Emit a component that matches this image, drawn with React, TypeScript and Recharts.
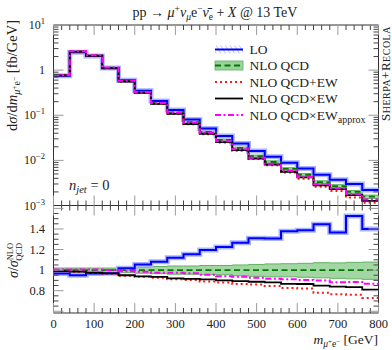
import React from 'react'
import { ComposedChart, Line, Area, XAxis, YAxis, ReferenceArea } from 'recharts'

const BIN_EDGES = [0, 40, 80, 120, 160, 200, 240, 280, 320, 360, 400, 440, 480, 520, 560, 600, 640, 680, 720, 760, 800]

// upper panel: dsigma/dm [fb/GeV], one value per 40 GeV bin
const LO = [0.75, 2.48, 2.06, 1.11, 0.6, 0.35, 0.206, 0.13, 0.081, 0.051, 0.0347, 0.0238, 0.0162, 0.012, 0.00885, 0.0066, 0.0048, 0.0037, 0.003, 0.0022]
const NLO_QCD = [0.775, 2.61, 2.13, 1.14, 0.59, 0.332, 0.191, 0.116, 0.07, 0.0427, 0.0283, 0.0188, 0.0124, 0.0092, 0.0065, 0.0048, 0.0033, 0.0027, 0.002, 0.00157]
const NLO_QCD_DOWN = [0.76, 2.56, 2.09, 1.12, 0.575, 0.322, 0.184, 0.111, 0.067, 0.0408, 0.027, 0.0178, 0.0117, 0.0087, 0.0061, 0.0045, 0.00307, 0.0025, 0.00184, 0.00143]
const NLO_QCD_UP = [0.79, 2.66, 2.17, 1.16, 0.605, 0.342, 0.198, 0.121, 0.073, 0.0446, 0.0296, 0.0197, 0.0131, 0.0098, 0.0069, 0.0051, 0.00353, 0.0029, 0.00215, 0.0017]
const NLO_PLUS_EW = [0.767, 2.57, 2.08, 1.1, 0.558, 0.31, 0.177, 0.106, 0.063, 0.038, 0.0249, 0.0163, 0.0107, 0.0078, 0.0054, 0.0039, 0.0026, 0.0021, 0.0015, 0.00115]
const NLO_TIMES_EW = [0.767, 2.57, 2.08, 1.1, 0.56, 0.312, 0.179, 0.107, 0.064, 0.0389, 0.0255, 0.0168, 0.011, 0.0081, 0.0056, 0.0042, 0.0028, 0.0023, 0.0017, 0.00127]
const NLO_TIMES_EW_APPROX = [0.775, 2.62, 2.14, 1.14, 0.584, 0.327, 0.186, 0.113, 0.068, 0.0408, 0.0266, 0.0176, 0.0115, 0.0084, 0.0059, 0.0043, 0.003, 0.0024, 0.0018, 0.00136]

// lower panel: ratios to NLO QCD
const R_LO = [0.968, 0.95, 0.968, 0.97, 1.017, 1.055, 1.08, 1.12, 1.153, 1.195, 1.225, 1.267, 1.31, 1.306, 1.377, 1.387, 1.446, 1.365, 1.527, 1.4]
const R_NLO = [1, 1, 1, 1, 1, 1, 1, 1, 1, 1, 1, 1, 1, 1, 1, 1, 1, 1, 1, 1]
const R_BAND_DOWN = [0.98, 0.98, 0.98, 0.98, 0.975, 0.97, 0.965, 0.96, 0.96, 0.955, 0.955, 0.945, 0.94, 0.935, 0.935, 0.93, 0.925, 0.92, 0.915, 0.91]
const R_BAND_UP = [1.02, 1.02, 1.02, 1.02, 1.025, 1.03, 1.035, 1.04, 1.04, 1.045, 1.045, 1.05, 1.055, 1.06, 1.062, 1.066, 1.072, 1.07, 1.075, 1.078]
const R_PLUS_EW = [0.99, 0.985, 0.975, 0.965, 0.945, 0.935, 0.925, 0.91, 0.905, 0.89, 0.88, 0.865, 0.86, 0.845, 0.825, 0.82, 0.78, 0.765, 0.76, 0.73]
const R_TIMES_EW = [0.99, 0.985, 0.975, 0.968, 0.95, 0.94, 0.935, 0.92, 0.915, 0.91, 0.9, 0.893, 0.887, 0.88, 0.867, 0.865, 0.85, 0.84, 0.835, 0.81]
const R_APPROX = [1.005, 1.005, 1.005, 1.0, 0.99, 0.985, 0.975, 0.975, 0.97, 0.955, 0.94, 0.935, 0.926, 0.916, 0.91, 0.905, 0.9, 0.883, 0.885, 0.867]

const X_TICKS = [0, 20, 40, 60, 80, 100, 120, 140, 160, 180, 200, 220, 240, 260, 280, 300, 320, 340, 360, 380, 400, 420, 440, 460, 480, 500, 520, 540, 560, 580, 600, 620, 640, 660, 680, 700, 720, 740, 760, 780, 800]
const X_LABELS = [0, 100, 200, 300, 400, 500, 600, 700, 800]
const LOG_TICKS = [
  0.001, 0.002, 0.003, 0.004, 0.005, 0.006, 0.007, 0.008, 0.009,
  0.01, 0.02, 0.03, 0.04, 0.05, 0.06, 0.07, 0.08, 0.09,
  0.1, 0.2, 0.3, 0.4, 0.5, 0.6, 0.7, 0.8, 0.9,
  1, 2, 3, 4, 5, 6, 7, 8, 9, 10,
]
const LOG_MAJOR = [0.001, 0.01, 0.1, 1, 10]
const LOG_EXP = ['−3', '−2', '−1', '', '1']
const RATIO_TICKS = [0.6, 0.65, 0.7, 0.75, 0.8, 0.85, 0.9, 0.95, 1, 1.05, 1.1, 1.15, 1.2, 1.25, 1.3, 1.35, 1.4, 1.45, 1.5, 1.55, 1.6]
const RATIO_MAJOR = [0.6, 0.8, 1, 1.2, 1.4, 1.6]
const RATIO_LABELS = ['0.8', '1', '1.2', '1.4']

const W = 392
const H = 350
const PL = 53.5
const PR = 378.5
const TOP_T = 25
const TOP_B = 205.5
const BOT_B = 313
const SERIF = '"Liberation Serif", "DejaVu Serif", serif'
const MAJOR_COL = '#9a9a9a'
const MINOR_COL = '#444'
const FRAME = '#333'

const pick = (arr: number[], i: number) => arr[Math.min(i, arr.length - 1)]

const topData = BIN_EDGES.map((x, i) => ({
  x,
  lo: pick(LO, i),
  nlo: pick(NLO_QCD, i),
  band: [pick(NLO_QCD_DOWN, i), pick(NLO_QCD_UP, i)],
  plusEw: pick(NLO_PLUS_EW, i),
  timesEw: pick(NLO_TIMES_EW, i),
  approx: pick(NLO_TIMES_EW_APPROX, i),
}))

const ratioData = BIN_EDGES.map((x, i) => ({
  x,
  lo: pick(R_LO, i),
  nlo: pick(R_NLO, i),
  band: [pick(R_BAND_DOWN, i), pick(R_BAND_UP, i)],
  plusEw: pick(R_PLUS_EW, i),
  timesEw: pick(R_TIMES_EW, i),
  approx: pick(R_APPROX, i),
}))

const near = (a: number, b: number) => Math.abs(a - b) < 1e-6 * Math.max(1e-3, Math.abs(b))

function XTicks(props: any, top: number, bottom: number, labels: boolean) {
  const { x, payload } = props
  const major = payload.value % 100 === 0
  const len = major ? 10 : 5
  const col = major ? MAJOR_COL : MINOR_COL
  return (
    <g>
      <line x1={x} x2={x} y1={bottom} y2={bottom - len} stroke={col} />
      <line x1={x} x2={x} y1={top} y2={top + len} stroke={col} />
      {labels && X_LABELS.includes(payload.value) && (
        <text x={x} y={327.5} textAnchor="middle" fontFamily={SERIF} fontSize={12.5} fill="#222">
          {payload.value}
        </text>
      )}
    </g>
  )
}

function LogTick(props: any) {
  const { y, payload } = props
  const idx = LOG_MAJOR.findIndex((m) => near(payload.value, m))
  const major = idx >= 0
  const len = major ? 10 : 5
  const col = major ? MAJOR_COL : MINOR_COL
  return (
    <g>
      <line x1={PL} x2={PL + len} y1={y} y2={y} stroke={col} />
      <line x1={PR} x2={PR - len} y1={y} y2={y} stroke={col} />
      {major && (
        <text x={45} y={y + 4} textAnchor="end" fontFamily={SERIF} fontSize={12} fill="#222">
          {LOG_EXP[idx] === '' ? '1' : '10'}
          {LOG_EXP[idx] !== '' && (
            <tspan dy={-5} fontSize={8.5}>
              {LOG_EXP[idx]}
            </tspan>
          )}
        </text>
      )}
    </g>
  )
}

function RatioTick(props: any) {
  const { y, payload } = props
  const major = RATIO_MAJOR.some((m) => near(payload.value, m))
  const len = major ? 10 : 5
  const col = major ? MAJOR_COL : MINOR_COL
  const label = RATIO_LABELS.find((l) => near(parseFloat(l), payload.value))
  return (
    <g>
      <line x1={PL} x2={PL + len} y1={y} y2={y} stroke={col} />
      <line x1={PR} x2={PR - len} y1={y} y2={y} stroke={col} />
      {label && (
        <text x={45} y={y + 4} textAnchor="end" fontFamily={SERIF} fontSize={12.5} fill="#222">
          {label}
        </text>
      )}
    </g>
  )
}

function Series() {
  return [
    <Area key="band" dataKey="band" type="stepAfter" fill="#98d39a" fillOpacity={0.9} stroke="#5fb25f" strokeWidth={1} isAnimationActive={false} />,
    <Line key="lohalo" dataKey="lo" type="stepAfter" stroke="#aab4ff" strokeWidth={5} dot={false} activeDot={false} isAnimationActive={false} />,
    <Line key="lo" dataKey="lo" type="stepAfter" stroke="#0000ff" strokeWidth={2} dot={false} activeDot={false} isAnimationActive={false} />,
    <Line key="nlo" dataKey="nlo" type="stepAfter" stroke="#007a00" strokeWidth={1.8} strokeDasharray="6 3.5" dot={false} activeDot={false} isAnimationActive={false} />,
    <Line key="plusEw" dataKey="plusEw" type="stepAfter" stroke="#ff1a1a" strokeWidth={2} strokeDasharray="2 3" dot={false} activeDot={false} isAnimationActive={false} />,
    <Line key="timesEw" dataKey="timesEw" type="stepAfter" stroke="#000" strokeWidth={1.8} dot={false} activeDot={false} isAnimationActive={false} />,
    <Line key="approx" dataKey="approx" type="stepAfter" stroke="#ff00ff" strokeWidth={2} strokeDasharray="6 2.5 2 2.5" dot={false} activeDot={false} isAnimationActive={false} />,
  ]
}

const LEGEND = [
  { name: 'LO', y: 49.5 },
  { name: 'NLO QCD', y: 65.5 },
  { name: 'NLO QCD+EW', y: 82 },
  { name: 'NLO QCD×EW', y: 98.5 },
  { name: 'NLO QCD×EW', sub: 'approx', y: 115 },
]

function Overlay() {
  const sx1 = 215
  const sx2 = 243
  return (
    <svg width={W} height={H} style={{ position: 'absolute', left: 0, top: 0, pointerEvents: 'none' }}>
      <defs>
        <pattern id="hatch" width="4" height="4" patternUnits="userSpaceOnUse" patternTransform="rotate(-30)">
          <line x1="0" y1="0" x2="0" y2="4" stroke="#aab4ff" strokeWidth="1.5" />
        </pattern>
      </defs>
      <text x={215} y={17} textAnchor="middle" fontFamily={SERIF} fontSize={14} fill="#222">
        pp → <tspan fontStyle="italic">μ</tspan>
        <tspan dy={-5} fontSize={9.5}>+</tspan>
        <tspan dy={5} fontStyle="italic">ν</tspan>
        <tspan dy={3} fontSize={9.5} fontStyle="italic">μ</tspan>
        <tspan dy={-3}>e</tspan>
        <tspan dy={-5} fontSize={9.5}>−</tspan>
        <tspan dy={5} fontStyle="italic">ν̄</tspan>
        <tspan dy={3} fontSize={9.5}>e</tspan>
        <tspan dy={-3}> + </tspan>
        <tspan fontStyle="italic">X</tspan> @ 13 TeV
      </text>

      {/* legend */}
      <rect x={sx1} y={LEGEND[0].y - 4} width={sx2 - sx1} height={8} fill="url(#hatch)" />
      <line x1={sx1} x2={sx2} y1={LEGEND[0].y} y2={LEGEND[0].y} stroke="#0000ff" strokeWidth={2} />
      <rect x={sx1} y={LEGEND[1].y - 4.5} width={sx2 - sx1} height={9} fill="#98d39a" stroke="#5fb25f" strokeWidth={0.8} />
      <line x1={sx1} x2={sx2} y1={LEGEND[1].y} y2={LEGEND[1].y} stroke="#007a00" strokeWidth={1.8} strokeDasharray="6 3.5" />
      <line x1={sx1} x2={sx2} y1={LEGEND[2].y} y2={LEGEND[2].y} stroke="#ff1a1a" strokeWidth={2} strokeDasharray="2 3" />
      <line x1={sx1} x2={sx2} y1={LEGEND[3].y} y2={LEGEND[3].y} stroke="#000" strokeWidth={1.8} />
      <line x1={sx1} x2={sx2} y1={LEGEND[4].y} y2={LEGEND[4].y} stroke="#ff00ff" strokeWidth={2} strokeDasharray="6 2.5 2 2.5" />
      {LEGEND.map((l) => (
        <text key={l.y} x={249.5} y={l.y + 4.5} fontFamily={SERIF} fontSize={13.5} fill="#222">
          {l.name}
          {l.sub && (
            <tspan dy={3} fontSize={10}>
              {l.sub}
            </tspan>
          )}
        </text>
      ))}

      <text transform="translate(390,121) rotate(-90)" fontFamily={SERIF} fontSize={13} letterSpacing={0.5} fill="#222">
        S<tspan fontSize={10}>HERPA</tspan>+R<tspan fontSize={10}>ECOLA</tspan>
      </text>

      <text x={69} y={189.5} fontFamily={SERIF} fontSize={14.5} fill="#222">
        <tspan fontStyle="italic">n</tspan>
        <tspan dy={3} fontSize={10.5} fontStyle="italic">jet</tspan>
        <tspan dy={-3}> = 0</tspan>
      </text>

      <text transform="translate(17,20) rotate(-90)" textAnchor="end" fontFamily={SERIF} fontSize={14.5} fill="#222">
        d<tspan fontStyle="italic">σ</tspan>/d<tspan fontStyle="italic">m</tspan>
        <tspan dy={3} fontSize={10} fontStyle="italic">μ</tspan>
        <tspan dy={-3} fontSize={7.5}>+</tspan>
        <tspan dy={3} fontSize={10}>e</tspan>
        <tspan dy={-3} fontSize={7.5}>−</tspan>
        <tspan dy={3}>{'  '}</tspan>
        <tspan dy={-3}>[fb/GeV]</tspan>
      </text>

      <text transform="translate(18,278) rotate(-90)" fontFamily={SERIF} fontSize={14} fill="#222">
        <tspan fontStyle="italic">σ</tspan>/<tspan fontStyle="italic">σ</tspan>
        <tspan dy={-5} fontSize={8.5}>NLO</tspan>
        <tspan dx={-18} dy={9} fontSize={8.5}>QCD</tspan>
      </text>

      <text x={378} y={344} textAnchor="end" fontFamily={SERIF} fontSize={13.5} fill="#222">
        <tspan fontStyle="italic">m</tspan>
        <tspan dy={3} fontSize={9.5} fontStyle="italic">μ</tspan>
        <tspan dy={-3} fontSize={7}>+</tspan>
        <tspan dy={3} fontSize={9.5}>e</tspan>
        <tspan dy={-3} fontSize={7}>−</tspan>
        <tspan dy={3}>{'  '}</tspan>
        <tspan dy={-3}>[GeV]</tspan>
      </text>
    </svg>
  )
}

export default function App() {
  return (
    <div style={{ position: 'absolute', left: 0, top: 0, width: W, height: H, background: '#fff' }}>
      <div style={{ position: 'absolute', left: 0, top: 0 }}>
        <ComposedChart width={W} height={H} data={topData} margin={{ top: TOP_T, right: W - PR, bottom: H - TOP_B - 1, left: PL - 1 }}>
          <XAxis
            dataKey="x"
            type="number"
            domain={[0, 800]}
            ticks={X_TICKS}
            interval={0}
            height={1}
            axisLine={false}
            tickLine={false}
            tick={(p: any) => XTicks(p, TOP_T, TOP_B, false)}
          />
          <YAxis
            scale="log"
            domain={[0.001, 10]}
            allowDataOverflow
            ticks={LOG_TICKS}
            interval={0}
            width={1}
            axisLine={false}
            tickLine={false}
            tick={LogTick}
          />
          {Series()}
          <ReferenceArea x1={0} x2={800} y1={0.001} y2={10} fill="none" stroke={FRAME} strokeWidth={1} ifOverflow="visible" />
        </ComposedChart>
      </div>
      <div style={{ position: 'absolute', left: 0, top: 0 }}>
        <ComposedChart width={W} height={H} data={ratioData} margin={{ top: TOP_B, right: W - PR, bottom: H - BOT_B - 1, left: PL - 1 }}>
          <XAxis
            dataKey="x"
            type="number"
            domain={[0, 800]}
            ticks={X_TICKS}
            interval={0}
            height={1}
            axisLine={false}
            tickLine={false}
            tick={(p: any) => XTicks(p, TOP_B, BOT_B, true)}
          />
          <YAxis
            domain={[0.583, 1.628]}
            allowDataOverflow
            ticks={RATIO_TICKS}
            interval={0}
            width={1}
            axisLine={false}
            tickLine={false}
            tick={RatioTick}
          />
          {Series()}
          <ReferenceArea x1={0} x2={800} y1={0.583} y2={1.628} fill="none" stroke={FRAME} strokeWidth={1} ifOverflow="visible" />
        </ComposedChart>
      </div>
      <Overlay />
    </div>
  )
}
